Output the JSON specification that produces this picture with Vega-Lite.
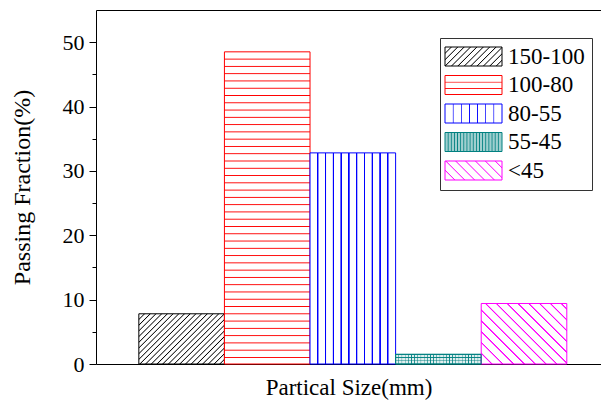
{
"$schema":"https://vega.github.io/schema/vega-lite/v6.json",
"width":505,"height":354,
"autosize":"none",
"padding":{"left":96,"top":10,"right":0,"bottom":37},
"background":"#ffffff",
"config":{"font":"Liberation Serif","view":{"stroke":null},"legend":{"labelFont":"Liberation Serif"}},
"data":{"values":[
{"size":"150-100","value":7.8},
{"size":"100-80","value":48.5},
{"size":"80-55","value":32.8},
{"size":"55-45","value":1.5},
{"size":"<45","value":9.4}
]},
"resolve":{"axis":{"x":"independent","y":"independent"}},
"layer":[
{
"mark":{"type":"bar","strokeWidth":1},
"encoding":{
"x":{"field":"size","type":"nominal","scale":{"domain":["150-100","100-80","80-55","55-45","<45"],"paddingInner":0,"paddingOuter":0.45,"align":0.556},
 "axis":{"orient":"bottom","labels":false,"ticks":false,"domainColor":"#000","title":"Partical Size(mm)","titleFont":"Liberation Serif","titleFontSize":23,"titleFontWeight":"normal","titleColor":"#000","titlePadding":12}},
"y":{"field":"value","type":"quantitative","scale":{"domain":[0,55],"nice":false,"zero":true},
 "axis":{"orient":"left","values":[0,10,20,30,40,50],"grid":false,"tickSize":7,"tickColor":"#000","domainColor":"#000","labelFont":"Liberation Serif","labelFontSize":22,"labelColor":"#000","labelPadding":5,"title":"Passing Fraction(%)","titleFont":"Liberation Serif","titleFontSize":24,"titleFontWeight":"normal","titleColor":"#000","titlePadding":28}},
"stroke":{"condition":[
 {"test":"datum.size === '150-100'","value":"#000000"},
 {"test":"datum.size === '100-80'","value":"#ff0000"},
 {"test":"datum.size === '80-55'","value":"#0000ff"},
 {"test":"datum.size === '55-45'","value":"#008080"}
],"value":"#ff00ff"},
"fill":{"condition":[
 {"test":"datum.size === '150-100'","value":{"gradient":"linear","x1":0,"y1":0,"x2":1.18,"y2":0.693,"stops":[
  {"offset":0,"color":"#fff"},
  {"offset":0.034,"color":"#fff"},{"offset":0.042,"color":"#000"},{"offset":0.050,"color":"#fff"},
  {"offset":0.076,"color":"#fff"},{"offset":0.084,"color":"#000"},{"offset":0.092,"color":"#fff"},
  {"offset":0.118,"color":"#fff"},{"offset":0.126,"color":"#000"},{"offset":0.134,"color":"#fff"},
  {"offset":0.160,"color":"#fff"},{"offset":0.168,"color":"#000"},{"offset":0.176,"color":"#fff"},
  {"offset":0.202,"color":"#fff"},{"offset":0.210,"color":"#000"},{"offset":0.218,"color":"#fff"},
  {"offset":0.244,"color":"#fff"},{"offset":0.252,"color":"#000"},{"offset":0.260,"color":"#fff"},
  {"offset":0.286,"color":"#fff"},{"offset":0.294,"color":"#000"},{"offset":0.302,"color":"#fff"},
  {"offset":0.328,"color":"#fff"},{"offset":0.336,"color":"#000"},{"offset":0.344,"color":"#fff"},
  {"offset":0.370,"color":"#fff"},{"offset":0.378,"color":"#000"},{"offset":0.386,"color":"#fff"},
  {"offset":0.412,"color":"#fff"},{"offset":0.420,"color":"#000"},{"offset":0.428,"color":"#fff"},
  {"offset":0.454,"color":"#fff"},{"offset":0.462,"color":"#000"},{"offset":0.470,"color":"#fff"},
  {"offset":0.496,"color":"#fff"},{"offset":0.504,"color":"#000"},{"offset":0.512,"color":"#fff"},
  {"offset":0.538,"color":"#fff"},{"offset":0.546,"color":"#000"},{"offset":0.554,"color":"#fff"},
  {"offset":0.580,"color":"#fff"},{"offset":0.588,"color":"#000"},{"offset":0.596,"color":"#fff"},
  {"offset":0.622,"color":"#fff"},{"offset":0.630,"color":"#000"},{"offset":0.638,"color":"#fff"},
  {"offset":0.664,"color":"#fff"},{"offset":0.672,"color":"#000"},{"offset":0.680,"color":"#fff"},
  {"offset":0.706,"color":"#fff"},{"offset":0.714,"color":"#000"},{"offset":0.722,"color":"#fff"},
  {"offset":0.748,"color":"#fff"},{"offset":0.756,"color":"#000"},{"offset":0.764,"color":"#fff"},
  {"offset":0.790,"color":"#fff"},{"offset":0.798,"color":"#000"},{"offset":0.806,"color":"#fff"},
  {"offset":0.832,"color":"#fff"},{"offset":0.840,"color":"#000"},{"offset":0.848,"color":"#fff"},
  {"offset":0.874,"color":"#fff"},{"offset":0.882,"color":"#000"},{"offset":0.890,"color":"#fff"},
  {"offset":0.916,"color":"#fff"},{"offset":0.924,"color":"#000"},{"offset":0.932,"color":"#fff"},
  {"offset":0.958,"color":"#fff"},{"offset":0.966,"color":"#000"},{"offset":0.974,"color":"#fff"},
  {"offset":1,"color":"#fff"}]}},
 {"test":"datum.size === '100-80'","value":{"gradient":"linear","x1":0.5,"y1":0,"x2":0.5,"y2":1,"stops":[
  {"offset":0,"color":"#fff"},
  {"offset":0.0203,"color":"#fff"},{"offset":0.0233,"color":"#f00"},{"offset":0.0263,"color":"#fff"},
  {"offset":0.0436,"color":"#fff"},{"offset":0.0466,"color":"#f00"},{"offset":0.0496,"color":"#fff"},
  {"offset":0.0669,"color":"#fff"},{"offset":0.0699,"color":"#f00"},{"offset":0.0729,"color":"#fff"},
  {"offset":0.0902,"color":"#fff"},{"offset":0.0932,"color":"#f00"},{"offset":0.0962,"color":"#fff"},
  {"offset":0.1136,"color":"#fff"},{"offset":0.1166,"color":"#f00"},{"offset":0.1196,"color":"#fff"},
  {"offset":0.1369,"color":"#fff"},{"offset":0.1399,"color":"#f00"},{"offset":0.1429,"color":"#fff"},
  {"offset":0.1602,"color":"#fff"},{"offset":0.1632,"color":"#f00"},{"offset":0.1662,"color":"#fff"},
  {"offset":0.1835,"color":"#fff"},{"offset":0.1865,"color":"#f00"},{"offset":0.1895,"color":"#fff"},
  {"offset":0.2068,"color":"#fff"},{"offset":0.2098,"color":"#f00"},{"offset":0.2128,"color":"#fff"},
  {"offset":0.2301,"color":"#fff"},{"offset":0.2331,"color":"#f00"},{"offset":0.2361,"color":"#fff"},
  {"offset":0.2534,"color":"#fff"},{"offset":0.2564,"color":"#f00"},{"offset":0.2594,"color":"#fff"},
  {"offset":0.2767,"color":"#fff"},{"offset":0.2797,"color":"#f00"},{"offset":0.2827,"color":"#fff"},
  {"offset":0.3000,"color":"#fff"},{"offset":0.3030,"color":"#f00"},{"offset":0.3060,"color":"#fff"},
  {"offset":0.3233,"color":"#fff"},{"offset":0.3263,"color":"#f00"},{"offset":0.3293,"color":"#fff"},
  {"offset":0.3467,"color":"#fff"},{"offset":0.3497,"color":"#f00"},{"offset":0.3527,"color":"#fff"},
  {"offset":0.3700,"color":"#fff"},{"offset":0.3730,"color":"#f00"},{"offset":0.3760,"color":"#fff"},
  {"offset":0.3933,"color":"#fff"},{"offset":0.3963,"color":"#f00"},{"offset":0.3993,"color":"#fff"},
  {"offset":0.4166,"color":"#fff"},{"offset":0.4196,"color":"#f00"},{"offset":0.4226,"color":"#fff"},
  {"offset":0.4399,"color":"#fff"},{"offset":0.4429,"color":"#f00"},{"offset":0.4459,"color":"#fff"},
  {"offset":0.4632,"color":"#fff"},{"offset":0.4662,"color":"#f00"},{"offset":0.4692,"color":"#fff"},
  {"offset":0.4865,"color":"#fff"},{"offset":0.4895,"color":"#f00"},{"offset":0.4925,"color":"#fff"},
  {"offset":0.5098,"color":"#fff"},{"offset":0.5128,"color":"#f00"},{"offset":0.5158,"color":"#fff"},
  {"offset":0.5331,"color":"#fff"},{"offset":0.5361,"color":"#f00"},{"offset":0.5391,"color":"#fff"},
  {"offset":0.5564,"color":"#fff"},{"offset":0.5594,"color":"#f00"},{"offset":0.5624,"color":"#fff"},
  {"offset":0.5798,"color":"#fff"},{"offset":0.5828,"color":"#f00"},{"offset":0.5858,"color":"#fff"},
  {"offset":0.6031,"color":"#fff"},{"offset":0.6061,"color":"#f00"},{"offset":0.6091,"color":"#fff"},
  {"offset":0.6264,"color":"#fff"},{"offset":0.6294,"color":"#f00"},{"offset":0.6324,"color":"#fff"},
  {"offset":0.6497,"color":"#fff"},{"offset":0.6527,"color":"#f00"},{"offset":0.6557,"color":"#fff"},
  {"offset":0.6730,"color":"#fff"},{"offset":0.6760,"color":"#f00"},{"offset":0.6790,"color":"#fff"},
  {"offset":0.6963,"color":"#fff"},{"offset":0.6993,"color":"#f00"},{"offset":0.7023,"color":"#fff"},
  {"offset":0.7196,"color":"#fff"},{"offset":0.7226,"color":"#f00"},{"offset":0.7256,"color":"#fff"},
  {"offset":0.7429,"color":"#fff"},{"offset":0.7459,"color":"#f00"},{"offset":0.7489,"color":"#fff"},
  {"offset":0.7662,"color":"#fff"},{"offset":0.7692,"color":"#f00"},{"offset":0.7722,"color":"#fff"},
  {"offset":0.7895,"color":"#fff"},{"offset":0.7925,"color":"#f00"},{"offset":0.7955,"color":"#fff"},
  {"offset":0.8129,"color":"#fff"},{"offset":0.8159,"color":"#f00"},{"offset":0.8189,"color":"#fff"},
  {"offset":0.8362,"color":"#fff"},{"offset":0.8392,"color":"#f00"},{"offset":0.8422,"color":"#fff"},
  {"offset":0.8595,"color":"#fff"},{"offset":0.8625,"color":"#f00"},{"offset":0.8655,"color":"#fff"},
  {"offset":0.8828,"color":"#fff"},{"offset":0.8858,"color":"#f00"},{"offset":0.8888,"color":"#fff"},
  {"offset":0.9061,"color":"#fff"},{"offset":0.9091,"color":"#f00"},{"offset":0.9121,"color":"#fff"},
  {"offset":0.9294,"color":"#fff"},{"offset":0.9324,"color":"#f00"},{"offset":0.9354,"color":"#fff"},
  {"offset":0.9527,"color":"#fff"},{"offset":0.9557,"color":"#f00"},{"offset":0.9587,"color":"#fff"},
  {"offset":0.9760,"color":"#fff"},{"offset":0.9790,"color":"#f00"},{"offset":0.9820,"color":"#fff"},
  {"offset":1,"color":"#fff"}]}},
 {"test":"datum.size === '80-55'","value":{"gradient":"linear","x1":0,"y1":0,"x2":1,"y2":0,"stops":[
  {"offset":0,"color":"#fff"},
  {"offset":0.0799,"color":"#fff"},{"offset":0.0859,"color":"#00f"},{"offset":0.0959,"color":"#00f"},{"offset":0.1019,"color":"#fff"},
  {"offset":0.1708,"color":"#fff"},{"offset":0.1768,"color":"#00f"},{"offset":0.1868,"color":"#00f"},{"offset":0.1928,"color":"#fff"},
  {"offset":0.2617,"color":"#fff"},{"offset":0.2677,"color":"#00f"},{"offset":0.2777,"color":"#00f"},{"offset":0.2837,"color":"#fff"},
  {"offset":0.3526,"color":"#fff"},{"offset":0.3586,"color":"#00f"},{"offset":0.3686,"color":"#00f"},{"offset":0.3746,"color":"#fff"},
  {"offset":0.4435,"color":"#fff"},{"offset":0.4495,"color":"#00f"},{"offset":0.4595,"color":"#00f"},{"offset":0.4655,"color":"#fff"},
  {"offset":0.5345,"color":"#fff"},{"offset":0.5405,"color":"#00f"},{"offset":0.5505,"color":"#00f"},{"offset":0.5565,"color":"#fff"},
  {"offset":0.6254,"color":"#fff"},{"offset":0.6314,"color":"#00f"},{"offset":0.6414,"color":"#00f"},{"offset":0.6474,"color":"#fff"},
  {"offset":0.7163,"color":"#fff"},{"offset":0.7223,"color":"#00f"},{"offset":0.7323,"color":"#00f"},{"offset":0.7383,"color":"#fff"},
  {"offset":0.8072,"color":"#fff"},{"offset":0.8132,"color":"#00f"},{"offset":0.8232,"color":"#00f"},{"offset":0.8292,"color":"#fff"},
  {"offset":0.8981,"color":"#fff"},{"offset":0.9041,"color":"#00f"},{"offset":0.9141,"color":"#00f"},{"offset":0.9201,"color":"#fff"},
  {"offset":1,"color":"#fff"}]}},
 {"test":"datum.size === '55-45'","value":{"gradient":"linear","x1":0,"y1":0,"x2":1,"y2":0,"stops":[
  {"offset":0,"color":"#e0efef"},
  {"offset":0.030,"color":"#e0efef"},{"offset":0.037,"color":"#008080"},{"offset":0.044,"color":"#e0efef"},
  {"offset":0.067,"color":"#e0efef"},{"offset":0.074,"color":"#008080"},{"offset":0.081,"color":"#e0efef"},
  {"offset":0.104,"color":"#e0efef"},{"offset":0.111,"color":"#008080"},{"offset":0.118,"color":"#e0efef"},
  {"offset":0.141,"color":"#e0efef"},{"offset":0.148,"color":"#008080"},{"offset":0.155,"color":"#e0efef"},
  {"offset":0.178,"color":"#e0efef"},{"offset":0.185,"color":"#008080"},{"offset":0.192,"color":"#e0efef"},
  {"offset":0.215,"color":"#e0efef"},{"offset":0.222,"color":"#008080"},{"offset":0.229,"color":"#e0efef"},
  {"offset":0.252,"color":"#e0efef"},{"offset":0.259,"color":"#008080"},{"offset":0.266,"color":"#e0efef"},
  {"offset":0.289,"color":"#e0efef"},{"offset":0.296,"color":"#008080"},{"offset":0.303,"color":"#e0efef"},
  {"offset":0.326,"color":"#e0efef"},{"offset":0.333,"color":"#008080"},{"offset":0.340,"color":"#e0efef"},
  {"offset":0.363,"color":"#e0efef"},{"offset":0.370,"color":"#008080"},{"offset":0.377,"color":"#e0efef"},
  {"offset":0.400,"color":"#e0efef"},{"offset":0.407,"color":"#008080"},{"offset":0.414,"color":"#e0efef"},
  {"offset":0.437,"color":"#e0efef"},{"offset":0.444,"color":"#008080"},{"offset":0.451,"color":"#e0efef"},
  {"offset":0.474,"color":"#e0efef"},{"offset":0.481,"color":"#008080"},{"offset":0.488,"color":"#e0efef"},
  {"offset":0.511,"color":"#e0efef"},{"offset":0.518,"color":"#008080"},{"offset":0.525,"color":"#e0efef"},
  {"offset":0.548,"color":"#e0efef"},{"offset":0.555,"color":"#008080"},{"offset":0.562,"color":"#e0efef"},
  {"offset":0.585,"color":"#e0efef"},{"offset":0.592,"color":"#008080"},{"offset":0.599,"color":"#e0efef"},
  {"offset":0.622,"color":"#e0efef"},{"offset":0.629,"color":"#008080"},{"offset":0.636,"color":"#e0efef"},
  {"offset":0.659,"color":"#e0efef"},{"offset":0.666,"color":"#008080"},{"offset":0.673,"color":"#e0efef"},
  {"offset":0.696,"color":"#e0efef"},{"offset":0.703,"color":"#008080"},{"offset":0.710,"color":"#e0efef"},
  {"offset":0.733,"color":"#e0efef"},{"offset":0.740,"color":"#008080"},{"offset":0.747,"color":"#e0efef"},
  {"offset":0.770,"color":"#e0efef"},{"offset":0.777,"color":"#008080"},{"offset":0.784,"color":"#e0efef"},
  {"offset":0.807,"color":"#e0efef"},{"offset":0.814,"color":"#008080"},{"offset":0.821,"color":"#e0efef"},
  {"offset":0.844,"color":"#e0efef"},{"offset":0.851,"color":"#008080"},{"offset":0.858,"color":"#e0efef"},
  {"offset":0.881,"color":"#e0efef"},{"offset":0.888,"color":"#008080"},{"offset":0.895,"color":"#e0efef"},
  {"offset":0.918,"color":"#e0efef"},{"offset":0.925,"color":"#008080"},{"offset":0.932,"color":"#e0efef"},
  {"offset":0.955,"color":"#e0efef"},{"offset":0.962,"color":"#008080"},{"offset":0.969,"color":"#e0efef"},
  {"offset":1,"color":"#e0efef"}]}},
 {"test":"datum.size === '<45'","value":{"gradient":"linear","x1":0,"y1":1,"x2":1.138,"y2":0.196,"stops":[
  {"offset":0,"color":"#fff"},
  {"offset":0.066,"color":"#fff"},{"offset":0.071,"color":"#f0f"},{"offset":0.077,"color":"#f0f"},{"offset":0.082,"color":"#fff"},
  {"offset":0.140,"color":"#fff"},{"offset":0.145,"color":"#f0f"},{"offset":0.151,"color":"#f0f"},{"offset":0.156,"color":"#fff"},
  {"offset":0.214,"color":"#fff"},{"offset":0.219,"color":"#f0f"},{"offset":0.225,"color":"#f0f"},{"offset":0.230,"color":"#fff"},
  {"offset":0.288,"color":"#fff"},{"offset":0.293,"color":"#f0f"},{"offset":0.299,"color":"#f0f"},{"offset":0.304,"color":"#fff"},
  {"offset":0.362,"color":"#fff"},{"offset":0.367,"color":"#f0f"},{"offset":0.373,"color":"#f0f"},{"offset":0.378,"color":"#fff"},
  {"offset":0.436,"color":"#fff"},{"offset":0.441,"color":"#f0f"},{"offset":0.447,"color":"#f0f"},{"offset":0.452,"color":"#fff"},
  {"offset":0.510,"color":"#fff"},{"offset":0.515,"color":"#f0f"},{"offset":0.521,"color":"#f0f"},{"offset":0.526,"color":"#fff"},
  {"offset":0.584,"color":"#fff"},{"offset":0.589,"color":"#f0f"},{"offset":0.595,"color":"#f0f"},{"offset":0.600,"color":"#fff"},
  {"offset":0.658,"color":"#fff"},{"offset":0.663,"color":"#f0f"},{"offset":0.669,"color":"#f0f"},{"offset":0.674,"color":"#fff"},
  {"offset":0.732,"color":"#fff"},{"offset":0.737,"color":"#f0f"},{"offset":0.743,"color":"#f0f"},{"offset":0.748,"color":"#fff"},
  {"offset":0.806,"color":"#fff"},{"offset":0.811,"color":"#f0f"},{"offset":0.817,"color":"#f0f"},{"offset":0.822,"color":"#fff"},
  {"offset":0.880,"color":"#fff"},{"offset":0.885,"color":"#f0f"},{"offset":0.891,"color":"#f0f"},{"offset":0.896,"color":"#fff"},
  {"offset":0.954,"color":"#fff"},{"offset":0.959,"color":"#f0f"},{"offset":0.965,"color":"#f0f"},{"offset":0.970,"color":"#fff"},
  {"offset":1,"color":"#fff"}]}}
],"value":"#ffffff"}
}
},
{
"transform":[{"filter":"datum.size === '55-45'"}],
"mark":{"type":"bar","stroke":"#008080","strokeWidth":1,"fill":{"gradient":"linear","x1":0.5,"y1":0,"x2":0.5,"y2":1,"stops":[
 {"offset":0,"color":"rgba(0,128,128,0)"},
 {"offset":0.27,"color":"rgba(0,128,128,0)"},{"offset":0.33,"color":"#008080"},{"offset":0.39,"color":"rgba(0,128,128,0)"},
 {"offset":0.61,"color":"rgba(0,128,128,0)"},{"offset":0.67,"color":"#008080"},{"offset":0.73,"color":"rgba(0,128,128,0)"},
 {"offset":1,"color":"rgba(0,128,128,0)"}]}},
"encoding":{
"x":{"field":"size","type":"nominal","scale":{"domain":["150-100","100-80","80-55","55-45","<45"],"paddingInner":0,"paddingOuter":0.45,"align":0.556},
 "axis":{"orient":"top","labels":false,"ticks":false,"domainColor":"#000","title":null}},
"y":{"field":"value","type":"quantitative","scale":{"domain":[0,55],"nice":false,"zero":true},
 "axis":{"orient":"left","values":[5,15,25,35,45],"grid":false,"labels":false,"domain":false,"tickSize":4,"tickColor":"#000","title":null}}
}
},
{
"transform":[{"filter":"false"}],
"mark":{"type":"bar","strokeWidth":1},
"encoding":{
"x":{"field":"size","type":"nominal","scale":{"domain":["150-100","100-80","80-55","55-45","<45"],"paddingInner":0,"paddingOuter":0.45,"align":0.556},"axis":null},
"y":{"field":"value","type":"quantitative","scale":{"domain":[0,55],"nice":false,"zero":true},"axis":null},
"stroke":{"field":"size","type":"nominal","scale":{"domain":["150-100","100-80","80-55","55-45","<45"],"range":["#000000","#ff0000","#0000ff","#008080","#ff00ff"]},
 "legend":{"orient":"none","legendX":344,"legendY":28,"title":null,"strokeColor":"#333333","fillColor":"#ffffff","padding":7,"symbolType":"M-3,-1H3V1H-3Z","symbolSize":361,"symbolStrokeWidth":1,"symbolOffset":15,"labelOffset":23,"labelFont":"Liberation Serif","labelFontSize":23,"labelColor":"#000","rowPadding":4.5,
  "labelExpr":"indexof(['80-55','55-45','<45'], datum.label) >= 0 ? '\u2009' + datum.label : datum.label"}},
"fill":{"field":"size","type":"nominal","scale":{"domain":["150-100","100-80","80-55","55-45","<45"],"range":[
  {"expr":"{gradient:'linear',x1:0,y1:0,x2:1.2,y2:0.4,stops:[{offset:0,color:'#fff'},{offset:0.070,color:'#fff'},{offset:0.084,color:'#000'},{offset:0.098,color:'#fff'},{offset:0.154,color:'#fff'},{offset:0.168,color:'#000'},{offset:0.182,color:'#fff'},{offset:0.238,color:'#fff'},{offset:0.252,color:'#000'},{offset:0.266,color:'#fff'},{offset:0.322,color:'#fff'},{offset:0.336,color:'#000'},{offset:0.350,color:'#fff'},{offset:0.406,color:'#fff'},{offset:0.420,color:'#000'},{offset:0.434,color:'#fff'},{offset:0.490,color:'#fff'},{offset:0.504,color:'#000'},{offset:0.518,color:'#fff'},{offset:0.574,color:'#fff'},{offset:0.588,color:'#000'},{offset:0.602,color:'#fff'},{offset:0.658,color:'#fff'},{offset:0.672,color:'#000'},{offset:0.686,color:'#fff'},{offset:0.742,color:'#fff'},{offset:0.756,color:'#000'},{offset:0.770,color:'#fff'},{offset:0.826,color:'#fff'},{offset:0.840,color:'#000'},{offset:0.854,color:'#fff'},{offset:0.910,color:'#fff'},{offset:0.924,color:'#000'},{offset:0.938,color:'#fff'},{offset:1,color:'#fff'}]}"},
  {"expr":"{gradient:'linear',x1:0.5,y1:0,x2:0.5,y2:1,stops:[{offset:0,color:'#fff'},{offset:0.31,color:'#fff'},{offset:0.35,color:'#f00'},{offset:0.39,color:'#fff'},{offset:0.64,color:'#fff'},{offset:0.68,color:'#f00'},{offset:0.72,color:'#fff'},{offset:1,color:'#fff'}]}"},
  {"expr":"{gradient:'linear',x1:0,y1:0,x2:1,y2:0,stops:[{offset:0,color:'#fff'},{offset:0.130,color:'#fff'},{offset:0.143,color:'#00f'},{offset:0.156,color:'#fff'},{offset:0.273,color:'#fff'},{offset:0.286,color:'#00f'},{offset:0.299,color:'#fff'},{offset:0.416,color:'#fff'},{offset:0.429,color:'#00f'},{offset:0.442,color:'#fff'},{offset:0.558,color:'#fff'},{offset:0.571,color:'#00f'},{offset:0.584,color:'#fff'},{offset:0.701,color:'#fff'},{offset:0.714,color:'#00f'},{offset:0.727,color:'#fff'},{offset:0.844,color:'#fff'},{offset:0.857,color:'#00f'},{offset:0.870,color:'#fff'},{offset:1,color:'#fff'}]}"},
  {"expr":"{gradient:'linear',x1:0,y1:0,x2:1,y2:0,stops:[{offset:0,color:'#9fcfcf'},{offset:0.04,color:'#9fcfcf'},{offset:0.055,color:'#008080'},{offset:0.07,color:'#9fcfcf'},{offset:0.095,color:'#9fcfcf'},{offset:0.11,color:'#008080'},{offset:0.125,color:'#9fcfcf'},{offset:0.15,color:'#9fcfcf'},{offset:0.165,color:'#008080'},{offset:0.18,color:'#9fcfcf'},{offset:0.205,color:'#9fcfcf'},{offset:0.22,color:'#008080'},{offset:0.235,color:'#9fcfcf'},{offset:0.26,color:'#9fcfcf'},{offset:0.275,color:'#008080'},{offset:0.29,color:'#9fcfcf'},{offset:0.315,color:'#9fcfcf'},{offset:0.33,color:'#008080'},{offset:0.345,color:'#9fcfcf'},{offset:0.37,color:'#9fcfcf'},{offset:0.385,color:'#008080'},{offset:0.40,color:'#9fcfcf'},{offset:0.425,color:'#9fcfcf'},{offset:0.44,color:'#008080'},{offset:0.455,color:'#9fcfcf'},{offset:0.48,color:'#9fcfcf'},{offset:0.495,color:'#008080'},{offset:0.51,color:'#9fcfcf'},{offset:0.535,color:'#9fcfcf'},{offset:0.55,color:'#008080'},{offset:0.565,color:'#9fcfcf'},{offset:0.59,color:'#9fcfcf'},{offset:0.605,color:'#008080'},{offset:0.62,color:'#9fcfcf'},{offset:0.645,color:'#9fcfcf'},{offset:0.66,color:'#008080'},{offset:0.675,color:'#9fcfcf'},{offset:0.70,color:'#9fcfcf'},{offset:0.715,color:'#008080'},{offset:0.73,color:'#9fcfcf'},{offset:0.755,color:'#9fcfcf'},{offset:0.77,color:'#008080'},{offset:0.785,color:'#9fcfcf'},{offset:0.81,color:'#9fcfcf'},{offset:0.825,color:'#008080'},{offset:0.84,color:'#9fcfcf'},{offset:0.865,color:'#9fcfcf'},{offset:0.88,color:'#008080'},{offset:0.895,color:'#9fcfcf'},{offset:0.92,color:'#9fcfcf'},{offset:0.935,color:'#008080'},{offset:0.95,color:'#9fcfcf'},{offset:1,color:'#9fcfcf'}]}"},
  {"expr":"{gradient:'linear',x1:0,y1:1,x2:1.2,y2:0.6,stops:[{offset:0,color:'#fff'},{offset:0.116,color:'#fff'},{offset:0.13,color:'#f0f'},{offset:0.144,color:'#fff'},{offset:0.246,color:'#fff'},{offset:0.26,color:'#f0f'},{offset:0.274,color:'#fff'},{offset:0.376,color:'#fff'},{offset:0.39,color:'#f0f'},{offset:0.404,color:'#fff'},{offset:0.506,color:'#fff'},{offset:0.52,color:'#f0f'},{offset:0.534,color:'#fff'},{offset:0.636,color:'#fff'},{offset:0.65,color:'#f0f'},{offset:0.664,color:'#fff'},{offset:0.766,color:'#fff'},{offset:0.78,color:'#f0f'},{offset:0.794,color:'#fff'},{offset:0.896,color:'#fff'},{offset:0.91,color:'#f0f'},{offset:0.924,color:'#fff'},{offset:1,color:'#fff'}]}"}
 ]},
 "legend":{"orient":"none","legendX":344,"legendY":28,"title":null,"strokeColor":"#333333","fillColor":"#ffffff","padding":7,"symbolType":"M-3,-1H3V1H-3Z","symbolSize":361,"symbolStrokeWidth":1,"symbolOffset":15,"labelOffset":23,"labelFont":"Liberation Serif","labelFontSize":23,"labelColor":"#000","rowPadding":4.5,
  "labelExpr":"indexof(['80-55','55-45','<45'], datum.label) >= 0 ? '\u2009' + datum.label : datum.label"}}
}
}
]
}
